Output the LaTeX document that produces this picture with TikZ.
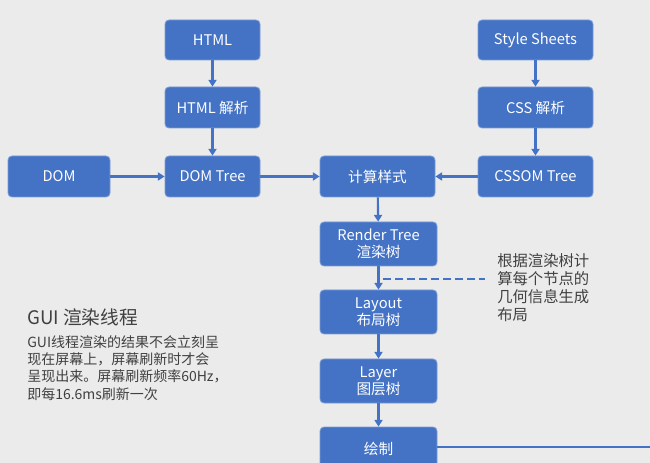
\documentclass[tikz,border=0pt]{standalone}
\usepackage{fontspec}
\setmainfont{Noto Sans CJK SC}
\usetikzlibrary{arrows.meta}
\definecolor{bx}{HTML}{4472C4}
\definecolor{bg}{HTML}{EBEBEB}
\definecolor{tx}{HTML}{404040}
\begin{document}
\begin{tikzpicture}[x=0.75pt,y=-0.75pt,
 box/.style={draw=bx!70!white,line width=0.6pt,fill=bx,rounded corners=3pt,text=white,font=\fontsize{11}{13}\selectfont,align=center,inner sep=0pt},
 ar/.style={draw=bx,line width=1.6pt,-{Triangle[length=5pt,width=6pt]}}]
\useasboundingbox[fill=bg] (0,0) rectangle (650,463);
\begin{scope}
\clip (0,0) rectangle (650,463);
\node[box,minimum width=71.25pt,minimum height=30pt] (html) at (212.5,40) {HTML};
\node[box,minimum width=71.25pt,minimum height=30.75pt] (hp) at (212.5,107.5) {HTML 解析};
\node[box,minimum width=76.5pt,minimum height=30.75pt] (dom) at (59,176.5) {DOM};
\node[box,minimum width=71.25pt,minimum height=30.75pt] (dt) at (212.5,176.5) {DOM Tree};
\node[box,minimum width=86.25pt,minimum height=30.75pt] (calc) at (377.5,176.5) {计算样式};
\node[box,minimum width=86.25pt,minimum height=30.75pt] (cssom) at (535.5,176.5) {CSSOM Tree};
\node[box,minimum width=86.25pt,minimum height=30pt] (ss) at (535.5,40) {Style Sheets};
\node[box,minimum width=86.25pt,minimum height=30.75pt] (cp) at (535.5,107.5) {CSS 解析};
\node[box,minimum width=87.75pt,minimum height=33pt] (rt) at (378.5,244) {Render Tree\\渲染树};
\node[box,minimum width=87.75pt,minimum height=33pt] (lay) at (378.5,312) {Layout\\布局树};
\node[box,minimum width=87.75pt,minimum height=33pt] (lyr) at (378.5,381) {Layer\\图层树};
\node[box,minimum width=87.75pt,minimum height=33pt] (draw) at (378.5,449) {绘制};
\draw[ar] (html) -- (hp);
\draw[ar] (hp) -- (dt);
\draw[ar] (dom) -- (dt);
\draw[ar] (dt) -- (calc);
\draw[ar] (cssom) -- (calc);
\draw[ar] (ss) -- (cp);
\draw[ar] (cp) -- (cssom);
\draw[ar] (calc) -- (rt);
\draw[ar] (rt) -- (lay);
\draw[ar] (lay) -- (lyr);
\draw[ar] (lyr) -- (draw);
\coordinate (de) at (485,279);
\coordinate (ds) at (383,279);
\draw[bx,line width=1.8pt,dash pattern=on 6pt off 3pt] (ds) -- (de);
\coordinate (re) at (652,447);
\draw[bx,line width=1.4pt] (draw.east |- re) -- (re);
\node[anchor=north west,text=tx,font=\fontsize{11.5}{13.5}\selectfont,align=left,inner sep=0pt] (note) at (497,253) {根据渲染树计\\算每个节点的\\几何信息生成\\布局};
\node[anchor=north west,text=tx,font=\fontsize{14}{16}\selectfont,inner sep=0pt] (title) at (27,308) {GUI 渲染线程};
\node[anchor=north west,text=tx,font=\fontsize{10.5}{13}\selectfont,align=left,inner sep=0pt] (body) at (27,335) {GUI线程渲染的结果不会立刻呈\\现在屏幕上，屏幕刷新时才会\\呈现出来。屏幕刷新频率60Hz，\\即每16.6ms刷新一次};
\end{scope}
\end{tikzpicture}
\end{document}
